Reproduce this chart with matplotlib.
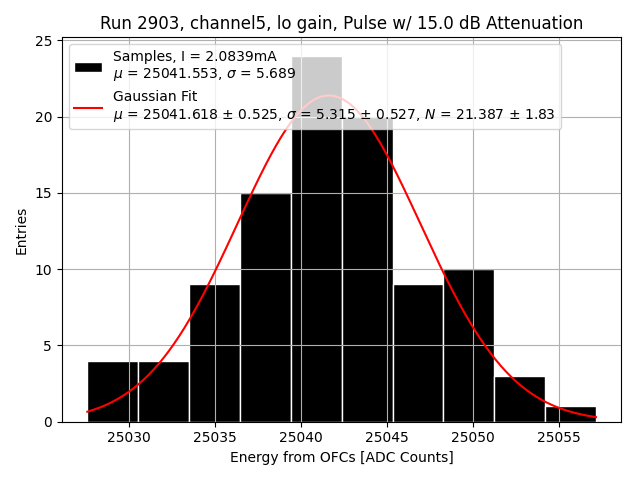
import numpy as np
import matplotlib
matplotlib.use('Agg')
import matplotlib.pyplot as plt

# histogram of samples
counts = [4, 4, 9, 15, 24, 20, 9, 10, 3, 1]
xmin = 25027.59
xmax = 25057.13

# fit results
mu_fit = 25041.618
sigma_fit = 5.315
N_fit = 21.387

samp_label = 'Samples, I = 2.0839mA\n$\\mu$ = 25041.553, $\\sigma$ = 5.689'
fit_label = ('Gaussian Fit\n$\\mu$ = 25041.618 $\\pm$ 0.525, $\\sigma$ = 5.315 $\\pm$ 0.527, '
             '$N$ = 21.387 $\\pm$ 1.83')

def gaus(x, N, mu, sigma):
    return N*np.exp(-(x-mu)**2/(2*sigma**2))

edges = np.linspace(xmin, xmax, len(counts)+1)

fig, ax = plt.subplots(figsize=(6.4, 4.8), dpi=100)
ax.hist(edges[:-1], bins=edges, weights=counts, color='black', edgecolor='white', label=samp_label)
xx = np.linspace(xmin, xmax, 300)
ax.plot(xx, gaus(xx, N_fit, mu_fit, sigma_fit), 'r-', label=fit_label)
ax.set_title('Run 2903, channel5, lo gain, Pulse w/ 15.0 dB Attenuation')
ax.set_xlabel('Energy from OFCs [ADC Counts]')
ax.set_ylabel('Entries')
ax.grid(True)
ax.legend(loc='upper left')
fig.tight_layout()
fig.savefig('out.png', dpi=100)
